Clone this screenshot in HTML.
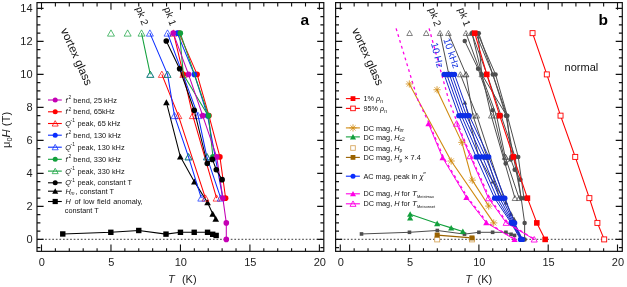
<!DOCTYPE html>
<html><head><meta charset="utf-8"><style>
html,body{margin:0;padding:0;background:#fff;width:627px;height:287px;overflow:hidden}
svg{display:block;font-family:"Liberation Sans",sans-serif;will-change:transform}
</style></head><body>
<svg width="627" height="287" viewBox="0 0 627 287" font-family="&quot;Liberation Sans&quot;, sans-serif">
<rect width="627" height="287" fill="#fff"/>
<rect x="37.0" y="2.6" width="286.8" height="248.75" fill="none" stroke="#111" stroke-width="1.2"/>
<line x1="38" y1="239.3" x2="322.8" y2="239.3" stroke="#333" stroke-width="0.95" stroke-dasharray="1.7 1.87"/>
<path d="M41.5,251.35v-6.8M41.5,2.6v7.2" stroke="#111" stroke-width="1.1"/>
<path d="M55.39,251.35v-3.2M55.39,2.6v3.9" stroke="#111" stroke-width="1.1"/>
<path d="M69.29,251.35v-3.2M69.29,2.6v3.9" stroke="#111" stroke-width="1.1"/>
<path d="M83.19,251.35v-3.2M83.19,2.6v3.9" stroke="#111" stroke-width="1.1"/>
<path d="M97.08,251.35v-3.2M97.08,2.6v3.9" stroke="#111" stroke-width="1.1"/>
<path d="M110.97,251.35v-6.8M110.97,2.6v7.2" stroke="#111" stroke-width="1.1"/>
<path d="M124.87,251.35v-3.2M124.87,2.6v3.9" stroke="#111" stroke-width="1.1"/>
<path d="M138.76,251.35v-3.2M138.76,2.6v3.9" stroke="#111" stroke-width="1.1"/>
<path d="M152.66,251.35v-3.2M152.66,2.6v3.9" stroke="#111" stroke-width="1.1"/>
<path d="M166.56,251.35v-3.2M166.56,2.6v3.9" stroke="#111" stroke-width="1.1"/>
<path d="M180.45,251.35v-6.8M180.45,2.6v7.2" stroke="#111" stroke-width="1.1"/>
<path d="M194.34,251.35v-3.2M194.34,2.6v3.9" stroke="#111" stroke-width="1.1"/>
<path d="M208.24,251.35v-3.2M208.24,2.6v3.9" stroke="#111" stroke-width="1.1"/>
<path d="M222.13,251.35v-3.2M222.13,2.6v3.9" stroke="#111" stroke-width="1.1"/>
<path d="M236.03,251.35v-3.2M236.03,2.6v3.9" stroke="#111" stroke-width="1.1"/>
<path d="M249.92,251.35v-6.8M249.92,2.6v7.2" stroke="#111" stroke-width="1.1"/>
<path d="M263.82,251.35v-3.2M263.82,2.6v3.9" stroke="#111" stroke-width="1.1"/>
<path d="M277.72,251.35v-3.2M277.72,2.6v3.9" stroke="#111" stroke-width="1.1"/>
<path d="M291.61,251.35v-3.2M291.61,2.6v3.9" stroke="#111" stroke-width="1.1"/>
<path d="M305.5,251.35v-3.2M305.5,2.6v3.9" stroke="#111" stroke-width="1.1"/>
<path d="M319.4,251.35v-6.8M319.4,2.6v7.2" stroke="#111" stroke-width="1.1"/>
<path d="M37.0,247.65h3.4M323.8,247.65h-3.4" stroke="#111" stroke-width="1.1"/>
<path d="M37.0,239.4h6.6M323.8,239.4h-6.6" stroke="#111" stroke-width="1.1"/>
<path d="M37.0,231.15h3.4M323.8,231.15h-3.4" stroke="#111" stroke-width="1.1"/>
<path d="M37.0,222.9h3.4M323.8,222.9h-3.4" stroke="#111" stroke-width="1.1"/>
<path d="M37.0,214.65h3.4M323.8,214.65h-3.4" stroke="#111" stroke-width="1.1"/>
<path d="M37.0,206.4h6.6M323.8,206.4h-6.6" stroke="#111" stroke-width="1.1"/>
<path d="M37.0,198.15h3.4M323.8,198.15h-3.4" stroke="#111" stroke-width="1.1"/>
<path d="M37.0,189.9h3.4M323.8,189.9h-3.4" stroke="#111" stroke-width="1.1"/>
<path d="M37.0,181.65h3.4M323.8,181.65h-3.4" stroke="#111" stroke-width="1.1"/>
<path d="M37.0,173.4h6.6M323.8,173.4h-6.6" stroke="#111" stroke-width="1.1"/>
<path d="M37.0,165.15h3.4M323.8,165.15h-3.4" stroke="#111" stroke-width="1.1"/>
<path d="M37.0,156.9h3.4M323.8,156.9h-3.4" stroke="#111" stroke-width="1.1"/>
<path d="M37.0,148.65h3.4M323.8,148.65h-3.4" stroke="#111" stroke-width="1.1"/>
<path d="M37.0,140.4h6.6M323.8,140.4h-6.6" stroke="#111" stroke-width="1.1"/>
<path d="M37.0,132.15h3.4M323.8,132.15h-3.4" stroke="#111" stroke-width="1.1"/>
<path d="M37.0,123.9h3.4M323.8,123.9h-3.4" stroke="#111" stroke-width="1.1"/>
<path d="M37.0,115.65h3.4M323.8,115.65h-3.4" stroke="#111" stroke-width="1.1"/>
<path d="M37.0,107.4h6.6M323.8,107.4h-6.6" stroke="#111" stroke-width="1.1"/>
<path d="M37.0,99.15h3.4M323.8,99.15h-3.4" stroke="#111" stroke-width="1.1"/>
<path d="M37.0,90.9h3.4M323.8,90.9h-3.4" stroke="#111" stroke-width="1.1"/>
<path d="M37.0,82.65h3.4M323.8,82.65h-3.4" stroke="#111" stroke-width="1.1"/>
<path d="M37.0,74.4h6.6M323.8,74.4h-6.6" stroke="#111" stroke-width="1.1"/>
<path d="M37.0,66.15h3.4M323.8,66.15h-3.4" stroke="#111" stroke-width="1.1"/>
<path d="M37.0,57.9h3.4M323.8,57.9h-3.4" stroke="#111" stroke-width="1.1"/>
<path d="M37.0,49.65h3.4M323.8,49.65h-3.4" stroke="#111" stroke-width="1.1"/>
<path d="M37.0,41.4h6.6M323.8,41.4h-6.6" stroke="#111" stroke-width="1.1"/>
<path d="M37.0,33.15h3.4M323.8,33.15h-3.4" stroke="#111" stroke-width="1.1"/>
<path d="M37.0,24.9h3.4M323.8,24.9h-3.4" stroke="#111" stroke-width="1.1"/>
<path d="M37.0,16.65h3.4M323.8,16.65h-3.4" stroke="#111" stroke-width="1.1"/>
<path d="M37.0,8.4h6.6M323.8,8.4h-6.6" stroke="#111" stroke-width="1.1"/>
<text x="41.9" y="266.2" font-size="11" text-anchor="middle" fill="#222">0</text>
<text x="111.38" y="266.2" font-size="11" text-anchor="middle" fill="#222">5</text>
<text x="180.85" y="266.2" font-size="11" text-anchor="middle" fill="#222">10</text>
<text x="250.32" y="266.2" font-size="11" text-anchor="middle" fill="#222">15</text>
<text x="319.8" y="266.2" font-size="11" text-anchor="middle" fill="#222">20</text>
<text x="32.6" y="243.3" font-size="11" text-anchor="end" fill="#222">0</text>
<text x="32.6" y="210.3" font-size="11" text-anchor="end" fill="#222">2</text>
<text x="32.6" y="177.3" font-size="11" text-anchor="end" fill="#222">4</text>
<text x="32.6" y="144.3" font-size="11" text-anchor="end" fill="#222">6</text>
<text x="32.6" y="111.3" font-size="11" text-anchor="end" fill="#222">8</text>
<text x="32.6" y="78.3" font-size="11" text-anchor="end" fill="#222">10</text>
<text x="32.6" y="45.3" font-size="11" text-anchor="end" fill="#222">12</text>
<text x="32.6" y="12.3" font-size="11" text-anchor="end" fill="#222">14</text>
<text x="168.05" y="283.2" font-size="11" font-style="italic" fill="#222">T</text>
<text x="181.95" y="283.2" font-size="11" fill="#222">(K)</text>
<text x="0" y="0" font-size="11.2" fill="#222" transform="translate(9.8 148.0) rotate(-90)">μ<tspan font-size="7.5" dy="2">0</tspan><tspan dy="-2" font-style="italic">H</tspan> (T)</text>
<path d="M62.76,233.96 L110.84,232.31 L138.76,230.49 L166,234.12 L180.45,232.31 L194.21,232.31 L207.55,232.31 L212.69,234.28 L216.16,235.44" fill="none" stroke="#000" stroke-width="1.05" stroke-linejoin="round"/>
<rect x="60.06" y="231.26" width="5.4" height="5.4" fill="#000"/>
<rect x="108.14" y="229.61" width="5.4" height="5.4" fill="#000"/>
<rect x="136.06" y="227.79" width="5.4" height="5.4" fill="#000"/>
<rect x="163.3" y="231.42" width="5.4" height="5.4" fill="#000"/>
<rect x="177.75" y="229.61" width="5.4" height="5.4" fill="#000"/>
<rect x="191.51" y="229.61" width="5.4" height="5.4" fill="#000"/>
<rect x="204.85" y="229.61" width="5.4" height="5.4" fill="#000"/>
<rect x="209.99" y="231.59" width="5.4" height="5.4" fill="#000"/>
<rect x="213.46" y="232.74" width="5.4" height="5.4" fill="#000"/>
<path d="M166.42,102.45 L180.31,156.57 L194.34,181.65 L207.55,202.44 L212.69,213.83 L215.74,218.94" fill="none" stroke="#000" stroke-width="1.05" stroke-linejoin="round"/>
<polygon points="166.42,99.34 169.72,105.25 163.12,105.25" fill="#000"/>
<polygon points="180.31,153.46 183.61,159.38 177.01,159.38" fill="#000"/>
<polygon points="194.34,178.54 197.65,184.46 191.04,184.46" fill="#000"/>
<polygon points="207.55,199.33 210.85,205.25 204.25,205.25" fill="#000"/>
<polygon points="212.69,210.72 215.99,216.63 209.39,216.63" fill="#000"/>
<polygon points="215.74,215.83 219.04,221.75 212.44,221.75" fill="#000"/>
<path d="M161.83,74.4 L178.37,115.65 L205.46,198.15" fill="none" stroke="#f00" stroke-width="1.05" stroke-linejoin="round"/>
<polygon points="161.83,71.13 165.33,77.38 158.33,77.38" fill="#fff" fill-opacity="0" stroke="#f00" stroke-width="0.7"/>
<polygon points="178.37,112.38 181.87,118.62 174.87,118.62" fill="#fff" fill-opacity="0" stroke="#f00" stroke-width="0.7"/>
<polygon points="205.46,194.88 208.96,201.12 201.96,201.12" fill="#fff" fill-opacity="0" stroke="#f00" stroke-width="0.7"/>
<path d="M173.5,33.15 L183.37,74.4 L192.82,115.65 L216.58,198.15" fill="none" stroke="#f00" stroke-width="1.05" stroke-linejoin="round"/>
<polygon points="173.5,29.88 177,36.13 170,36.13" fill="#fff" fill-opacity="0" stroke="#f00" stroke-width="0.7"/>
<polygon points="183.37,71.13 186.87,77.38 179.87,77.38" fill="#fff" fill-opacity="0" stroke="#f00" stroke-width="0.7"/>
<polygon points="192.82,112.38 196.32,118.62 189.32,118.62" fill="#fff" fill-opacity="0" stroke="#f00" stroke-width="0.7"/>
<polygon points="216.58,194.88 220.08,201.12 213.08,201.12" fill="#fff" fill-opacity="0" stroke="#f00" stroke-width="0.7"/>
<path d="M149.88,33.15 L167.53,74.4 L174.48,115.65 L188.51,156.9 L201.29,198.15" fill="none" stroke="#0a2dff" stroke-width="1.05" stroke-linejoin="round"/>
<polygon points="149.88,29.88 153.38,36.13 146.38,36.13" fill="#fff" fill-opacity="0" stroke="#0a2dff" stroke-width="0.7"/>
<polygon points="167.53,71.13 171.03,77.38 164.03,77.38" fill="#fff" fill-opacity="0" stroke="#0a2dff" stroke-width="0.7"/>
<polygon points="174.48,112.38 177.98,118.62 170.98,118.62" fill="#fff" fill-opacity="0" stroke="#0a2dff" stroke-width="0.7"/>
<polygon points="188.51,153.62 192.01,159.88 185.01,159.88" fill="#fff" fill-opacity="0" stroke="#0a2dff" stroke-width="0.7"/>
<polygon points="201.29,194.88 204.79,201.12 197.79,201.12" fill="#fff" fill-opacity="0" stroke="#0a2dff" stroke-width="0.7"/>
<polygon points="150.3,71.13 153.8,77.38 146.8,77.38" fill="#fff" fill-opacity="0" stroke="#0a2dff" stroke-width="0.7"/>
<path d="M167.53,33.15 L198.1,115.65 L206.85,156.9 L220.75,198.15" fill="none" stroke="#0a2dff" stroke-width="1.05" stroke-linejoin="round"/>
<polygon points="167.53,29.88 171.03,36.13 164.03,36.13" fill="#fff" fill-opacity="0" stroke="#0a2dff" stroke-width="0.7"/>
<polygon points="198.1,112.38 201.6,118.62 194.6,118.62" fill="#fff" fill-opacity="0" stroke="#0a2dff" stroke-width="0.7"/>
<polygon points="206.85,153.62 210.35,159.88 203.35,159.88" fill="#fff" fill-opacity="0" stroke="#0a2dff" stroke-width="0.7"/>
<polygon points="220.75,194.88 224.25,201.12 217.25,201.12" fill="#fff" fill-opacity="0" stroke="#0a2dff" stroke-width="0.7"/>
<polygon points="110.97,29.88 114.47,36.13 107.47,36.13" fill="#fff" fill-opacity="0" stroke="#12a03c" stroke-width="0.7"/>
<polygon points="127.65,29.88 131.15,36.13 124.15,36.13" fill="#fff" fill-opacity="0" stroke="#12a03c" stroke-width="0.7"/>
<path d="M141.54,33.15 L150.3,74.4" fill="none" stroke="#12a03c" stroke-width="1.05" stroke-linejoin="round"/>
<polygon points="141.54,29.88 145.04,36.13 138.04,36.13" fill="#fff" fill-opacity="0" stroke="#12a03c" stroke-width="0.7"/>
<polygon points="150.3,71.13 153.8,77.38 146.8,77.38" fill="#fff" fill-opacity="0" stroke="#12a03c" stroke-width="0.7"/>
<polygon points="167.53,71.13 171.03,77.38 164.03,77.38" fill="#fff" fill-opacity="0" stroke="#12a03c" stroke-width="0.7"/>
<polygon points="188.51,153.62 192.01,159.88 185.01,159.88" fill="#fff" fill-opacity="0" stroke="#12a03c" stroke-width="0.7"/>
<polygon points="207.13,153.62 210.63,159.88 203.63,159.88" fill="#fff" fill-opacity="0" stroke="#12a03c" stroke-width="0.7"/>
<path d="M179.06,33.15 L197.12,74.4 L208.93,115.65 L219.91,156.9 L225.61,198.15" fill="none" stroke="#f00" stroke-width="1.05" stroke-linejoin="round"/>
<circle cx="179.06" cy="33.15" r="2.8" fill="#f00"/>
<circle cx="197.12" cy="74.4" r="2.8" fill="#f00"/>
<circle cx="208.93" cy="115.65" r="2.8" fill="#f00"/>
<circle cx="219.91" cy="156.9" r="2.8" fill="#f00"/>
<circle cx="225.61" cy="198.15" r="2.8" fill="#f00"/>
<circle cx="183.37" cy="74.4" r="2.8" fill="#f00"/>
<path d="M207.55,115.65 L215.19,156.9 L222.83,198.15" fill="none" stroke="#0a2dff" stroke-width="1.05" stroke-linejoin="round"/>
<path d="M177.25,33.15 L194.34,74.4 L207.55,115.65" fill="none" stroke="#0a2dff" stroke-width="1.05" stroke-linejoin="round"/>
<circle cx="177.25" cy="33.15" r="2.8" fill="#0a2dff"/>
<circle cx="194.34" cy="74.4" r="2.8" fill="#0a2dff"/>
<circle cx="207.55" cy="115.65" r="2.8" fill="#0a2dff"/>
<path d="M179.48,33.15 L183.37,74.4 L208.24,115.65" fill="none" stroke="#12a03c" stroke-width="1.05" stroke-linejoin="round"/>
<path d="M180.31,33.15 L208.52,115.65 L212.96,156.9" fill="none" stroke="#12a03c" stroke-width="1.05" stroke-linejoin="round"/>
<circle cx="180.31" cy="33.15" r="2.8" fill="#12a03c"/>
<circle cx="208.52" cy="115.65" r="2.8" fill="#12a03c"/>
<circle cx="212.96" cy="156.9" r="2.8" fill="#12a03c"/>
<path d="M173.22,33.15 L188.51,74.4 L202.68,115.65 L216.72,156.9 L222.83,198.15 L226.3,222.9 L226.3,239.4" fill="none" stroke="#c400b4" stroke-width="1.05" stroke-linejoin="round"/>
<circle cx="173.22" cy="33.15" r="2.8" fill="#c400b4"/>
<circle cx="188.51" cy="74.4" r="2.8" fill="#c400b4"/>
<circle cx="202.68" cy="115.65" r="2.8" fill="#c400b4"/>
<circle cx="216.72" cy="156.9" r="2.8" fill="#c400b4"/>
<circle cx="222.83" cy="198.15" r="2.8" fill="#c400b4"/>
<circle cx="226.3" cy="222.9" r="2.8" fill="#c400b4"/>
<circle cx="226.3" cy="239.4" r="2.8" fill="#c400b4"/>
<path d="M166.28,41.07 L179.62,68.79 L194.21,110.21 L207.27,163.5 L212.41,159.38 L216.3,169.77 L222.13,179.67" fill="none" stroke="#000" stroke-width="1.05" stroke-linejoin="round"/>
<circle cx="166.28" cy="41.07" r="2.8" fill="#000"/>
<circle cx="179.62" cy="68.79" r="2.8" fill="#000"/>
<circle cx="194.21" cy="110.21" r="2.8" fill="#000"/>
<circle cx="207.27" cy="163.5" r="2.8" fill="#000"/>
<circle cx="212.41" cy="159.38" r="2.8" fill="#000"/>
<circle cx="216.3" cy="169.77" r="2.8" fill="#000"/>
<circle cx="222.13" cy="179.67" r="2.8" fill="#000"/>
<text x="300.5" y="25" font-size="15.5" text-anchor="start" fill="#000" font-weight="bold">a</text>
<text x="60.6" y="30.2" font-size="11.5" text-anchor="start" fill="#111" transform="rotate(66 60.6 30.2)">vortex glass</text>
<text x="135.7" y="8.2" font-size="10" text-anchor="start" fill="#111" transform="rotate(70 135.7 8.2)">pk 2</text>
<text x="163.8" y="8.6" font-size="10" text-anchor="start" fill="#111" transform="rotate(70 163.8 8.6)">pk 1</text>
<line x1="48" y1="100.0" x2="61.8" y2="100.0" stroke="#c400b4" stroke-width="1.1"/>
<circle cx="55.2" cy="100" r="2.5" fill="#c400b4"/>
<text x="65.6" y="102.6" font-size="7.3" font-style="italic" fill="#111">f</text>
<text x="68.6" y="98.8" font-size="4.8" fill="#111">2</text>
<text x="73.3" y="102.6" font-size="7.4" fill="#111">bend, 25 kHz</text>
<line x1="48" y1="111.8" x2="61.8" y2="111.8" stroke="#f00" stroke-width="1.1"/>
<circle cx="55.2" cy="111.8" r="2.5" fill="#f00"/>
<text x="65.6" y="114.4" font-size="7.3" font-style="italic" fill="#111">f</text>
<text x="68.6" y="110.6" font-size="4.8" fill="#111">2</text>
<text x="73.3" y="114.4" font-size="7.4" fill="#111">bend, 65kHz</text>
<line x1="48" y1="123.5" x2="61.8" y2="123.5" stroke="#f00" stroke-width="1.1"/>
<polygon points="55.2,120.65 58.2,126.05 52.2,126.05" fill="#fff" fill-opacity="0" stroke="#f00" stroke-width="0.75"/>
<text x="65.3" y="126.1" font-size="7.3" font-style="italic" fill="#111">Q</text>
<text x="70.6" y="122.3" font-size="4.8" fill="#111">-1</text>
<text x="77.4" y="126.1" font-size="7.4" fill="#111">peak, 65 kHz</text>
<line x1="48" y1="135.2" x2="61.8" y2="135.2" stroke="#0a2dff" stroke-width="1.1"/>
<circle cx="55.2" cy="135.2" r="2.5" fill="#0a2dff"/>
<text x="65.6" y="137.8" font-size="7.3" font-style="italic" fill="#111">f</text>
<text x="68.6" y="134" font-size="4.8" fill="#111">2</text>
<text x="73.3" y="137.8" font-size="7.4" fill="#111">bend, 130 kHz</text>
<line x1="48" y1="147.2" x2="61.8" y2="147.2" stroke="#0a2dff" stroke-width="1.1"/>
<polygon points="55.2,144.35 58.2,149.75 52.2,149.75" fill="#fff" fill-opacity="0" stroke="#0a2dff" stroke-width="0.75"/>
<text x="65.3" y="149.8" font-size="7.3" font-style="italic" fill="#111">Q</text>
<text x="70.6" y="146" font-size="4.8" fill="#111">-1</text>
<text x="77.4" y="149.8" font-size="7.4" fill="#111">peak, 130 kHz</text>
<line x1="48" y1="159.3" x2="61.8" y2="159.3" stroke="#12a03c" stroke-width="1.1"/>
<circle cx="55.2" cy="159.3" r="2.5" fill="#12a03c"/>
<text x="65.6" y="161.9" font-size="7.3" font-style="italic" fill="#111">f</text>
<text x="68.6" y="158.1" font-size="4.8" fill="#111">2</text>
<text x="73.3" y="161.9" font-size="7.4" fill="#111">bend, 330 kHz</text>
<line x1="48" y1="171.1" x2="61.8" y2="171.1" stroke="#12a03c" stroke-width="1.1"/>
<polygon points="55.2,168.25 58.2,173.65 52.2,173.65" fill="#fff" fill-opacity="0" stroke="#12a03c" stroke-width="0.75"/>
<text x="65.3" y="173.7" font-size="7.3" font-style="italic" fill="#111">Q</text>
<text x="70.6" y="169.9" font-size="4.8" fill="#111">-1</text>
<text x="77.4" y="173.7" font-size="7.4" fill="#111">peak, 330 kHz</text>
<line x1="48" y1="182.8" x2="61.8" y2="182.8" stroke="#000" stroke-width="1.1"/>
<circle cx="55.2" cy="182.8" r="2.5" fill="#000"/>
<text x="65.3" y="185.4" font-size="7.3" font-style="italic" fill="#111">Q</text>
<text x="70.6" y="181.6" font-size="4.8" fill="#111">-1</text>
<text x="77.4" y="185.4" font-size="7.4" fill="#111">peak, constant T</text>
<line x1="48" y1="191.2" x2="61.8" y2="191.2" stroke="#000" stroke-width="1.1"/>
<polygon points="55.2,188.35 58.2,193.75 52.2,193.75" fill="#000"/>
<text x="65.6" y="193.8" font-size="7.3" font-style="italic" fill="#111">H</text>
<text x="70.4" y="195" font-size="4.8" font-style="italic" fill="#111">m</text>
<text x="75.6" y="193.8" font-size="7.4" fill="#111">, constant T</text>
<line x1="48" y1="201.5" x2="61.8" y2="201.5" stroke="#000" stroke-width="1.1"/>
<rect x="52.6" y="198.9" width="5.2" height="5.2" fill="#000"/>
<text x="65.6" y="204.1" font-size="7.3" font-style="italic" fill="#111">H</text>
<text x="74.4" y="204.1" font-size="7.4" word-spacing="0.6" fill="#111">of low field anomaly,</text>
<text x="64.8" y="212.6" font-size="7.3" fill="#111">constant T</text>
<rect x="335.6" y="2.6" width="286.7" height="248.75" fill="none" stroke="#111" stroke-width="1.2"/>
<line x1="336.6" y1="239.3" x2="621.3" y2="239.3" stroke="#333" stroke-width="0.95" stroke-dasharray="1.7 1.87"/>
<path d="M340.3,251.35v-6.8M340.3,2.6v7.2" stroke="#111" stroke-width="1.1"/>
<path d="M354.16,251.35v-3.2M354.16,2.6v3.9" stroke="#111" stroke-width="1.1"/>
<path d="M368.02,251.35v-3.2M368.02,2.6v3.9" stroke="#111" stroke-width="1.1"/>
<path d="M381.88,251.35v-3.2M381.88,2.6v3.9" stroke="#111" stroke-width="1.1"/>
<path d="M395.74,251.35v-3.2M395.74,2.6v3.9" stroke="#111" stroke-width="1.1"/>
<path d="M409.6,251.35v-6.8M409.6,2.6v7.2" stroke="#111" stroke-width="1.1"/>
<path d="M423.46,251.35v-3.2M423.46,2.6v3.9" stroke="#111" stroke-width="1.1"/>
<path d="M437.32,251.35v-3.2M437.32,2.6v3.9" stroke="#111" stroke-width="1.1"/>
<path d="M451.18,251.35v-3.2M451.18,2.6v3.9" stroke="#111" stroke-width="1.1"/>
<path d="M465.04,251.35v-3.2M465.04,2.6v3.9" stroke="#111" stroke-width="1.1"/>
<path d="M478.9,251.35v-6.8M478.9,2.6v7.2" stroke="#111" stroke-width="1.1"/>
<path d="M492.76,251.35v-3.2M492.76,2.6v3.9" stroke="#111" stroke-width="1.1"/>
<path d="M506.62,251.35v-3.2M506.62,2.6v3.9" stroke="#111" stroke-width="1.1"/>
<path d="M520.48,251.35v-3.2M520.48,2.6v3.9" stroke="#111" stroke-width="1.1"/>
<path d="M534.34,251.35v-3.2M534.34,2.6v3.9" stroke="#111" stroke-width="1.1"/>
<path d="M548.2,251.35v-6.8M548.2,2.6v7.2" stroke="#111" stroke-width="1.1"/>
<path d="M562.06,251.35v-3.2M562.06,2.6v3.9" stroke="#111" stroke-width="1.1"/>
<path d="M575.92,251.35v-3.2M575.92,2.6v3.9" stroke="#111" stroke-width="1.1"/>
<path d="M589.78,251.35v-3.2M589.78,2.6v3.9" stroke="#111" stroke-width="1.1"/>
<path d="M603.64,251.35v-3.2M603.64,2.6v3.9" stroke="#111" stroke-width="1.1"/>
<path d="M617.5,251.35v-6.8M617.5,2.6v7.2" stroke="#111" stroke-width="1.1"/>
<path d="M335.6,247.65h3.4M622.3,247.65h-3.4" stroke="#111" stroke-width="1.1"/>
<path d="M335.6,239.4h6.6M622.3,239.4h-6.6" stroke="#111" stroke-width="1.1"/>
<path d="M335.6,231.15h3.4M622.3,231.15h-3.4" stroke="#111" stroke-width="1.1"/>
<path d="M335.6,222.9h3.4M622.3,222.9h-3.4" stroke="#111" stroke-width="1.1"/>
<path d="M335.6,214.65h3.4M622.3,214.65h-3.4" stroke="#111" stroke-width="1.1"/>
<path d="M335.6,206.4h6.6M622.3,206.4h-6.6" stroke="#111" stroke-width="1.1"/>
<path d="M335.6,198.15h3.4M622.3,198.15h-3.4" stroke="#111" stroke-width="1.1"/>
<path d="M335.6,189.9h3.4M622.3,189.9h-3.4" stroke="#111" stroke-width="1.1"/>
<path d="M335.6,181.65h3.4M622.3,181.65h-3.4" stroke="#111" stroke-width="1.1"/>
<path d="M335.6,173.4h6.6M622.3,173.4h-6.6" stroke="#111" stroke-width="1.1"/>
<path d="M335.6,165.15h3.4M622.3,165.15h-3.4" stroke="#111" stroke-width="1.1"/>
<path d="M335.6,156.9h3.4M622.3,156.9h-3.4" stroke="#111" stroke-width="1.1"/>
<path d="M335.6,148.65h3.4M622.3,148.65h-3.4" stroke="#111" stroke-width="1.1"/>
<path d="M335.6,140.4h6.6M622.3,140.4h-6.6" stroke="#111" stroke-width="1.1"/>
<path d="M335.6,132.15h3.4M622.3,132.15h-3.4" stroke="#111" stroke-width="1.1"/>
<path d="M335.6,123.9h3.4M622.3,123.9h-3.4" stroke="#111" stroke-width="1.1"/>
<path d="M335.6,115.65h3.4M622.3,115.65h-3.4" stroke="#111" stroke-width="1.1"/>
<path d="M335.6,107.4h6.6M622.3,107.4h-6.6" stroke="#111" stroke-width="1.1"/>
<path d="M335.6,99.15h3.4M622.3,99.15h-3.4" stroke="#111" stroke-width="1.1"/>
<path d="M335.6,90.9h3.4M622.3,90.9h-3.4" stroke="#111" stroke-width="1.1"/>
<path d="M335.6,82.65h3.4M622.3,82.65h-3.4" stroke="#111" stroke-width="1.1"/>
<path d="M335.6,74.4h6.6M622.3,74.4h-6.6" stroke="#111" stroke-width="1.1"/>
<path d="M335.6,66.15h3.4M622.3,66.15h-3.4" stroke="#111" stroke-width="1.1"/>
<path d="M335.6,57.9h3.4M622.3,57.9h-3.4" stroke="#111" stroke-width="1.1"/>
<path d="M335.6,49.65h3.4M622.3,49.65h-3.4" stroke="#111" stroke-width="1.1"/>
<path d="M335.6,41.4h6.6M622.3,41.4h-6.6" stroke="#111" stroke-width="1.1"/>
<path d="M335.6,33.15h3.4M622.3,33.15h-3.4" stroke="#111" stroke-width="1.1"/>
<path d="M335.6,24.9h3.4M622.3,24.9h-3.4" stroke="#111" stroke-width="1.1"/>
<path d="M335.6,16.65h3.4M622.3,16.65h-3.4" stroke="#111" stroke-width="1.1"/>
<path d="M335.6,8.4h6.6M622.3,8.4h-6.6" stroke="#111" stroke-width="1.1"/>
<text x="340.7" y="266.2" font-size="11" text-anchor="middle" fill="#222">0</text>
<text x="410" y="266.2" font-size="11" text-anchor="middle" fill="#222">5</text>
<text x="479.3" y="266.2" font-size="11" text-anchor="middle" fill="#222">10</text>
<text x="548.6" y="266.2" font-size="11" text-anchor="middle" fill="#222">15</text>
<text x="617.9" y="266.2" font-size="11" text-anchor="middle" fill="#222">20</text>
<text x="465.2" y="283.2" font-size="11" font-style="italic" fill="#222">T</text>
<text x="477.6" y="283.2" font-size="11" fill="#222">(K)</text>
<text x="598.5" y="25" font-size="15.5" text-anchor="start" fill="#000" font-weight="bold">b</text>
<text x="564.6" y="70.7" font-size="11" text-anchor="start" fill="#111">normal</text>
<text x="351.8" y="30.2" font-size="11.5" text-anchor="start" fill="#111" transform="rotate(66 351.8 30.2)">vortex glass</text>
<text x="428.5" y="9.3" font-size="10" text-anchor="start" fill="#111" transform="rotate(70 428.5 9.3)">pk 2</text>
<text x="458" y="9.3" font-size="10" text-anchor="start" fill="#111" transform="rotate(70 458 9.3)">pk 1</text>
<path d="M361.51,233.96 L409.46,232.31 L437.32,230.49 L464.49,234.12 L478.9,232.31 L492.62,232.31 L505.93,232.31 L511.06,234.28 L514.52,235.44" fill="none" stroke="#4d4d4d" stroke-width="1.0" stroke-linejoin="round"/>
<rect x="359.71" y="232.16" width="3.6" height="3.6" fill="#4d4d4d"/>
<rect x="407.66" y="230.5" width="3.6" height="3.6" fill="#4d4d4d"/>
<rect x="435.52" y="228.69" width="3.6" height="3.6" fill="#4d4d4d"/>
<rect x="462.69" y="232.32" width="3.6" height="3.6" fill="#4d4d4d"/>
<rect x="477.1" y="230.5" width="3.6" height="3.6" fill="#4d4d4d"/>
<rect x="490.82" y="230.5" width="3.6" height="3.6" fill="#4d4d4d"/>
<rect x="504.13" y="230.5" width="3.6" height="3.6" fill="#4d4d4d"/>
<rect x="509.26" y="232.48" width="3.6" height="3.6" fill="#4d4d4d"/>
<rect x="512.72" y="233.64" width="3.6" height="3.6" fill="#4d4d4d"/>
<path d="M464.9,102.45 L478.76,156.57 L492.76,181.65 L505.93,202.44 L511.06,213.83 L514.1,218.94" fill="none" stroke="#4d4d4d" stroke-width="1.0" stroke-linejoin="round"/>
<polygon points="464.9,100.19 467.2,104.4 462.6,104.4" fill="#4d4d4d"/>
<polygon points="478.76,154.31 481.06,158.53 476.46,158.53" fill="#4d4d4d"/>
<polygon points="492.76,179.39 495.06,183.61 490.46,183.61" fill="#4d4d4d"/>
<polygon points="505.93,200.18 508.23,204.4 503.63,204.4" fill="#4d4d4d"/>
<polygon points="511.06,211.57 513.36,215.78 508.76,215.78" fill="#4d4d4d"/>
<polygon points="514.1,216.68 516.4,220.9 511.8,220.9" fill="#4d4d4d"/>
<path d="M460.33,74.4 L476.82,115.65 L503.85,198.15" fill="none" stroke="#4d4d4d" stroke-width="1.0" stroke-linejoin="round"/>
<polygon points="460.33,71.72 463.13,76.78 457.53,76.78" fill="#fff" fill-opacity="0" stroke="#4d4d4d" stroke-width="0.7"/>
<polygon points="476.82,112.97 479.62,118.03 474.02,118.03" fill="#fff" fill-opacity="0" stroke="#4d4d4d" stroke-width="0.7"/>
<polygon points="503.85,195.47 506.65,200.53 501.05,200.53" fill="#fff" fill-opacity="0" stroke="#4d4d4d" stroke-width="0.7"/>
<path d="M471.97,33.15 L481.81,74.4 L491.24,115.65 L514.94,198.15" fill="none" stroke="#4d4d4d" stroke-width="1.0" stroke-linejoin="round"/>
<polygon points="471.97,30.47 474.77,35.53 469.17,35.53" fill="#fff" fill-opacity="0" stroke="#4d4d4d" stroke-width="0.7"/>
<polygon points="481.81,71.72 484.61,76.78 479.01,76.78" fill="#fff" fill-opacity="0" stroke="#4d4d4d" stroke-width="0.7"/>
<polygon points="491.24,112.97 494.04,118.03 488.44,118.03" fill="#fff" fill-opacity="0" stroke="#4d4d4d" stroke-width="0.7"/>
<polygon points="514.94,195.47 517.74,200.53 512.14,200.53" fill="#fff" fill-opacity="0" stroke="#4d4d4d" stroke-width="0.7"/>
<path d="M448.41,33.15 L466.01,74.4 L472.94,115.65 L486.94,156.9 L499.69,198.15" fill="none" stroke="#4d4d4d" stroke-width="1.0" stroke-linejoin="round"/>
<polygon points="448.41,30.47 451.21,35.53 445.61,35.53" fill="#fff" fill-opacity="0" stroke="#4d4d4d" stroke-width="0.7"/>
<polygon points="466.01,71.72 468.81,76.78 463.21,76.78" fill="#fff" fill-opacity="0" stroke="#4d4d4d" stroke-width="0.7"/>
<polygon points="472.94,112.97 475.74,118.03 470.14,118.03" fill="#fff" fill-opacity="0" stroke="#4d4d4d" stroke-width="0.7"/>
<polygon points="486.94,154.22 489.74,159.28 484.14,159.28" fill="#fff" fill-opacity="0" stroke="#4d4d4d" stroke-width="0.7"/>
<polygon points="499.69,195.47 502.49,200.53 496.89,200.53" fill="#fff" fill-opacity="0" stroke="#4d4d4d" stroke-width="0.7"/>
<polygon points="448.82,71.72 451.62,76.78 446.02,76.78" fill="#fff" fill-opacity="0" stroke="#4d4d4d" stroke-width="0.7"/>
<path d="M466.01,33.15 L496.5,115.65 L505.23,156.9 L519.09,198.15" fill="none" stroke="#4d4d4d" stroke-width="1.0" stroke-linejoin="round"/>
<polygon points="466.01,30.47 468.81,35.53 463.21,35.53" fill="#fff" fill-opacity="0" stroke="#4d4d4d" stroke-width="0.7"/>
<polygon points="496.5,112.97 499.3,118.03 493.7,118.03" fill="#fff" fill-opacity="0" stroke="#4d4d4d" stroke-width="0.7"/>
<polygon points="505.23,154.22 508.03,159.28 502.43,159.28" fill="#fff" fill-opacity="0" stroke="#4d4d4d" stroke-width="0.7"/>
<polygon points="519.09,195.47 521.89,200.53 516.29,200.53" fill="#fff" fill-opacity="0" stroke="#4d4d4d" stroke-width="0.7"/>
<polygon points="409.6,30.47 412.4,35.53 406.8,35.53" fill="#fff" fill-opacity="0" stroke="#4d4d4d" stroke-width="0.7"/>
<polygon points="426.23,30.47 429.03,35.53 423.43,35.53" fill="#fff" fill-opacity="0" stroke="#4d4d4d" stroke-width="0.7"/>
<path d="M440.09,33.15 L448.82,74.4" fill="none" stroke="#4d4d4d" stroke-width="1.0" stroke-linejoin="round"/>
<polygon points="440.09,30.47 442.89,35.53 437.29,35.53" fill="#fff" fill-opacity="0" stroke="#4d4d4d" stroke-width="0.7"/>
<polygon points="448.82,71.72 451.62,76.78 446.02,76.78" fill="#fff" fill-opacity="0" stroke="#4d4d4d" stroke-width="0.7"/>
<polygon points="466.01,71.72 468.81,76.78 463.21,76.78" fill="#fff" fill-opacity="0" stroke="#4d4d4d" stroke-width="0.7"/>
<polygon points="486.94,154.22 489.74,159.28 484.14,159.28" fill="#fff" fill-opacity="0" stroke="#4d4d4d" stroke-width="0.7"/>
<polygon points="505.51,154.22 508.31,159.28 502.71,159.28" fill="#fff" fill-opacity="0" stroke="#4d4d4d" stroke-width="0.7"/>
<path d="M477.51,33.15 L495.53,74.4 L507.31,115.65 L518.26,156.9 L523.94,198.15" fill="none" stroke="#4d4d4d" stroke-width="1.0" stroke-linejoin="round"/>
<circle cx="477.51" cy="33.15" r="2.25" fill="#4d4d4d"/>
<circle cx="495.53" cy="74.4" r="2.25" fill="#4d4d4d"/>
<circle cx="507.31" cy="115.65" r="2.25" fill="#4d4d4d"/>
<circle cx="518.26" cy="156.9" r="2.25" fill="#4d4d4d"/>
<circle cx="523.94" cy="198.15" r="2.25" fill="#4d4d4d"/>
<circle cx="481.81" cy="74.4" r="2.25" fill="#4d4d4d"/>
<path d="M505.93,115.65 L513.55,156.9 L521.17,198.15" fill="none" stroke="#4d4d4d" stroke-width="1.0" stroke-linejoin="round"/>
<path d="M475.71,33.15 L492.76,74.4 L505.93,115.65" fill="none" stroke="#4d4d4d" stroke-width="1.0" stroke-linejoin="round"/>
<circle cx="475.71" cy="33.15" r="2.25" fill="#4d4d4d"/>
<circle cx="492.76" cy="74.4" r="2.25" fill="#4d4d4d"/>
<circle cx="505.93" cy="115.65" r="2.25" fill="#4d4d4d"/>
<path d="M477.93,33.15 L481.81,74.4 L506.62,115.65" fill="none" stroke="#4d4d4d" stroke-width="1.0" stroke-linejoin="round"/>
<path d="M478.76,33.15 L506.9,115.65 L511.33,156.9" fill="none" stroke="#4d4d4d" stroke-width="1.0" stroke-linejoin="round"/>
<circle cx="478.76" cy="33.15" r="2.25" fill="#4d4d4d"/>
<circle cx="506.9" cy="115.65" r="2.25" fill="#4d4d4d"/>
<circle cx="511.33" cy="156.9" r="2.25" fill="#4d4d4d"/>
<path d="M471.69,33.15 L486.94,74.4 L501.08,115.65 L515.07,156.9 L521.17,198.15 L524.64,222.9 L524.64,239.4" fill="none" stroke="#4d4d4d" stroke-width="1.0" stroke-linejoin="round"/>
<circle cx="471.69" cy="33.15" r="2.25" fill="#4d4d4d"/>
<circle cx="486.94" cy="74.4" r="2.25" fill="#4d4d4d"/>
<circle cx="501.08" cy="115.65" r="2.25" fill="#4d4d4d"/>
<circle cx="515.07" cy="156.9" r="2.25" fill="#4d4d4d"/>
<circle cx="521.17" cy="198.15" r="2.25" fill="#4d4d4d"/>
<circle cx="524.64" cy="222.9" r="2.25" fill="#4d4d4d"/>
<circle cx="524.64" cy="239.4" r="2.25" fill="#4d4d4d"/>
<path d="M464.76,41.07 L478.07,68.79 L492.62,110.21 L505.65,163.5 L510.78,159.38 L514.66,169.77 L520.48,179.67" fill="none" stroke="#4d4d4d" stroke-width="1.0" stroke-linejoin="round"/>
<circle cx="464.76" cy="41.07" r="2.25" fill="#4d4d4d"/>
<circle cx="478.07" cy="68.79" r="2.25" fill="#4d4d4d"/>
<circle cx="492.62" cy="110.21" r="2.25" fill="#4d4d4d"/>
<circle cx="505.65" cy="163.5" r="2.25" fill="#4d4d4d"/>
<circle cx="510.78" cy="159.38" r="2.25" fill="#4d4d4d"/>
<circle cx="514.66" cy="169.77" r="2.25" fill="#4d4d4d"/>
<circle cx="520.48" cy="179.67" r="2.25" fill="#4d4d4d"/>
<path d="M409.32,83.97 L451.18,161.03 L493.73,222.9" fill="none" stroke="#d08a10" stroke-width="1.1" stroke-linejoin="round"/>
<path d="M437.04,89.75 L461.85,142.38 L472.25,180.17 L488.74,206.07" fill="none" stroke="#d08a10" stroke-width="1.1" stroke-linejoin="round"/>
<path d="M444.11,74.4 L458.8,115.65 L476.13,156.9 L494.56,198.15 L511.06,222.9 L520.48,239.4" fill="none" stroke="#1428c8" stroke-width="1.0" stroke-linejoin="round"/>
<path d="M446.74,74.4 L461.44,115.65 L479.32,156.9 L497.06,198.15 L512.03,222.9 L521.03,239.4" fill="none" stroke="#1428c8" stroke-width="1.0" stroke-linejoin="round"/>
<path d="M449.38,74.4 L463.93,115.65 L482.5,156.9 L499.69,198.15 L512.86,222.9 L521.45,239.4" fill="none" stroke="#1428c8" stroke-width="1.0" stroke-linejoin="round"/>
<path d="M451.87,74.4 L466.43,115.65 L485.55,156.9 L502.18,198.15 L513.83,222.9 L521.87,239.4" fill="none" stroke="#1428c8" stroke-width="1.0" stroke-linejoin="round"/>
<path d="M454.51,74.4 L469.2,115.65 L488.74,156.9 L504.82,198.15 L514.66,222.9 L522.42,239.4" fill="none" stroke="#1428c8" stroke-width="1.0" stroke-linejoin="round"/>
<path d="M396.1,28.4 L417.9,100 L429.3,123.6 L443.6,157.7 L467.6,197.4 L487.4,222.7 L515.5,239.6" fill="none" stroke="#ff00e6" stroke-width="1.3" stroke-linejoin="round" stroke-dasharray="2.8 3.3"/>
<path d="M429.1,28.4 L448.7,100 L457.6,123.6 L471,156.3 L489.6,198.1 L507.2,222.7 L535.2,239.6" fill="none" stroke="#ff00e6" stroke-width="1.3" stroke-linejoin="round" stroke-dasharray="2.8 3.3"/>
<path d="M428.45,123.57 L442.59,157.73 L466.43,197.33 L486.25,222.74 L514.52,239.4" fill="none" stroke="#ff00e6" stroke-width="1.0" stroke-linejoin="round"/>
<path d="M456.59,123.57 L470.17,156.07 L488.46,198.15 L506.2,222.74 L534.2,239.4" fill="none" stroke="#ff00e6" stroke-width="1.0" stroke-linejoin="round"/>
<path d="M410.15,214.16 L437.18,223.56 L451.18,227.85 L462.82,231.48" fill="none" stroke="#12a03c" stroke-width="1.1" stroke-linejoin="round"/>
<path d="M437.18,235.11 L471.97,237.91" fill="none" stroke="#9a6200" stroke-width="1.1" stroke-linejoin="round"/>
<path d="M474.74,33.15 L486.8,74.4 L499.69,115.65 L513.41,156.9 L527.41,198.15 L536.83,222.9 L545.15,239.4" fill="none" stroke="#f00" stroke-width="1.1" stroke-linejoin="round"/>
<path d="M532.54,33.15 L546.81,74.4 L560.54,115.65 L575.23,156.9 L589.36,198.15 L597.4,222.9 L604.19,239.4" fill="none" stroke="#f00" stroke-width="1.1" stroke-linejoin="round"/>
<rect x="434.68" y="236.9" width="5" height="5" fill="#fff" stroke="#d8a860" stroke-width="0.9"/>
<rect x="469.47" y="236.9" width="5" height="5" fill="#fff" stroke="#d8a860" stroke-width="0.9"/>
<rect x="434.68" y="232.61" width="5" height="5" fill="#9a6200"/>
<rect x="469.47" y="235.41" width="5" height="5" fill="#9a6200"/>
<polygon points="410.15,211.22 413.25,216.79 407.05,216.79" fill="#12a03c"/>
<polygon points="437.18,220.62 440.28,226.19 434.08,226.19" fill="#12a03c"/>
<polygon points="451.18,224.91 454.28,230.48 448.08,230.48" fill="#12a03c"/>
<polygon points="462.82,228.55 465.92,234.12 459.72,234.12" fill="#12a03c"/>
<polygon points="410.15,215.02 413.25,220.59 407.05,220.59" fill="#12a03c"/>
<circle cx="444.11" cy="74.4" r="2.65" fill="#0c2ee6"/>
<circle cx="446.74" cy="74.4" r="2.65" fill="#0c2ee6"/>
<circle cx="449.38" cy="74.4" r="2.65" fill="#0c2ee6"/>
<circle cx="451.87" cy="74.4" r="2.65" fill="#0c2ee6"/>
<circle cx="454.51" cy="74.4" r="2.65" fill="#0c2ee6"/>
<circle cx="458.8" cy="115.65" r="2.65" fill="#0c2ee6"/>
<circle cx="461.44" cy="115.65" r="2.65" fill="#0c2ee6"/>
<circle cx="463.93" cy="115.65" r="2.65" fill="#0c2ee6"/>
<circle cx="466.43" cy="115.65" r="2.65" fill="#0c2ee6"/>
<circle cx="469.2" cy="115.65" r="2.65" fill="#0c2ee6"/>
<circle cx="476.13" cy="156.9" r="2.65" fill="#0c2ee6"/>
<circle cx="479.32" cy="156.9" r="2.65" fill="#0c2ee6"/>
<circle cx="482.5" cy="156.9" r="2.65" fill="#0c2ee6"/>
<circle cx="485.55" cy="156.9" r="2.65" fill="#0c2ee6"/>
<circle cx="488.74" cy="156.9" r="2.65" fill="#0c2ee6"/>
<circle cx="494.56" cy="198.15" r="2.65" fill="#0c2ee6"/>
<circle cx="497.06" cy="198.15" r="2.65" fill="#0c2ee6"/>
<circle cx="499.69" cy="198.15" r="2.65" fill="#0c2ee6"/>
<circle cx="502.18" cy="198.15" r="2.65" fill="#0c2ee6"/>
<circle cx="504.82" cy="198.15" r="2.65" fill="#0c2ee6"/>
<circle cx="511.06" cy="222.9" r="2.65" fill="#0c2ee6"/>
<circle cx="512.03" cy="222.9" r="2.65" fill="#0c2ee6"/>
<circle cx="512.86" cy="222.9" r="2.65" fill="#0c2ee6"/>
<circle cx="513.83" cy="222.9" r="2.65" fill="#0c2ee6"/>
<circle cx="514.66" cy="222.9" r="2.65" fill="#0c2ee6"/>
<circle cx="520.48" cy="239.4" r="2.65" fill="#0c2ee6"/>
<circle cx="521.03" cy="239.4" r="2.65" fill="#0c2ee6"/>
<circle cx="521.45" cy="239.4" r="2.65" fill="#0c2ee6"/>
<circle cx="521.87" cy="239.4" r="2.65" fill="#0c2ee6"/>
<circle cx="522.42" cy="239.4" r="2.65" fill="#0c2ee6"/>
<path d="M405.72,83.97L412.92,83.97M406.78,81.42L411.87,86.52M409.32,80.37L409.32,87.57M411.87,81.42L406.78,86.52" stroke="#d08a10" stroke-width="0.8" fill="none"/>
<path d="M447.58,161.03L454.78,161.03M448.63,158.48L453.73,163.57M451.18,157.43L451.18,164.62M453.73,158.48L448.63,163.57" stroke="#d08a10" stroke-width="0.8" fill="none"/>
<path d="M490.13,222.9L497.33,222.9M491.18,220.35L496.28,225.45M493.73,219.3L493.73,226.5M496.28,220.35L491.18,225.45" stroke="#d08a10" stroke-width="0.8" fill="none"/>
<path d="M433.44,89.75L440.64,89.75M434.5,87.2L439.59,92.29M437.04,86.15L437.04,93.34M439.59,87.2L434.5,92.29" stroke="#d08a10" stroke-width="0.8" fill="none"/>
<path d="M458.25,142.38L465.45,142.38M459.31,139.83L464.4,144.93M461.85,138.78L461.85,145.98M464.4,139.83L459.31,144.93" stroke="#d08a10" stroke-width="0.8" fill="none"/>
<path d="M468.65,180.17L475.85,180.17M469.7,177.62L474.79,182.71M472.25,176.57L472.25,183.77M474.79,177.62L469.7,182.71" stroke="#d08a10" stroke-width="0.8" fill="none"/>
<path d="M485.14,206.07L492.34,206.07M486.2,203.52L491.29,208.62M488.74,202.47L488.74,209.67M491.29,203.52L486.2,208.62" stroke="#d08a10" stroke-width="0.8" fill="none"/>
<polygon points="428.45,120.64 431.55,126.21 425.35,126.21" fill="#ff00e6"/>
<polygon points="442.59,154.79 445.69,160.36 439.49,160.36" fill="#ff00e6"/>
<polygon points="466.43,194.39 469.53,199.96 463.33,199.96" fill="#ff00e6"/>
<polygon points="486.25,219.8 489.35,225.37 483.15,225.37" fill="#ff00e6"/>
<polygon points="514.52,236.47 517.62,242.03 511.42,242.03" fill="#ff00e6"/>
<polygon points="456.59,120.64 459.69,126.21 453.49,126.21" fill="#fff" fill-opacity="0" stroke="#ff00e6" stroke-width="0.9"/>
<polygon points="470.17,153.14 473.27,158.71 467.07,158.71" fill="#fff" fill-opacity="0" stroke="#ff00e6" stroke-width="0.9"/>
<polygon points="488.46,195.22 491.56,200.78 485.36,200.78" fill="#fff" fill-opacity="0" stroke="#ff00e6" stroke-width="0.9"/>
<polygon points="506.2,219.8 509.3,225.37 503.1,225.37" fill="#fff" fill-opacity="0" stroke="#ff00e6" stroke-width="0.9"/>
<polygon points="534.2,236.47 537.3,242.03 531.1,242.03" fill="#fff" fill-opacity="0" stroke="#ff00e6" stroke-width="0.9"/>
<rect x="471.94" y="30.35" width="5.6" height="5.6" fill="#f00"/>
<rect x="484" y="71.6" width="5.6" height="5.6" fill="#f00"/>
<rect x="496.89" y="112.85" width="5.6" height="5.6" fill="#f00"/>
<rect x="510.61" y="154.1" width="5.6" height="5.6" fill="#f00"/>
<rect x="524.61" y="195.35" width="5.6" height="5.6" fill="#f00"/>
<rect x="534.03" y="220.1" width="5.6" height="5.6" fill="#f00"/>
<rect x="542.35" y="236.6" width="5.6" height="5.6" fill="#f00"/>
<rect x="530.04" y="30.65" width="5" height="5" fill="#fff" stroke="#f00" stroke-width="0.9"/>
<rect x="544.31" y="71.9" width="5" height="5" fill="#fff" stroke="#f00" stroke-width="0.9"/>
<rect x="558.04" y="113.15" width="5" height="5" fill="#fff" stroke="#f00" stroke-width="0.9"/>
<rect x="572.73" y="154.4" width="5" height="5" fill="#fff" stroke="#f00" stroke-width="0.9"/>
<rect x="586.86" y="195.65" width="5" height="5" fill="#fff" stroke="#f00" stroke-width="0.9"/>
<rect x="594.9" y="220.4" width="5" height="5" fill="#fff" stroke="#f00" stroke-width="0.9"/>
<rect x="601.69" y="236.9" width="5" height="5" fill="#fff" stroke="#f00" stroke-width="0.9"/>
<text x="431" y="43.6" font-size="9.8" text-anchor="start" fill="#1030e0" transform="rotate(76 431 43.6)">10 Hz</text>
<text x="443.2" y="39.6" font-size="10" text-anchor="start" fill="#1030e0" transform="rotate(71 443.2 39.6)">10 kHz</text>
<line x1="345.9" y1="98.6" x2="359.9" y2="98.6" stroke="#f00" stroke-width="1.1"/>
<rect x="350.6" y="96.2" width="4.8" height="4.8" fill="#f00"/>
<text x="363.4" y="101.2" font-size="7.3" fill="#111">1% <tspan font-style="italic">ρ</tspan><tspan font-size="5" dy="1.5">n</tspan></text>
<line x1="345.9" y1="108.4" x2="359.9" y2="108.4" stroke="#f00" stroke-width="1.1"/>
<rect x="350.7" y="106.1" width="4.6" height="4.6" fill="#fff" stroke="#f00" stroke-width="0.9"/>
<text x="363.4" y="111" font-size="7.3" fill="#111">95% <tspan font-style="italic">ρ</tspan><tspan font-size="5" dy="1.5">n</tspan></text>
<line x1="345.9" y1="127.9" x2="359.9" y2="127.9" stroke="#d08a10" stroke-width="1.1"/>
<path d="M349.4,127.9L356.6,127.9M350.45,125.35L355.55,130.45M353,124.3L353,131.5M355.55,125.35L350.45,130.45" stroke="#d08a10" stroke-width="0.8" fill="none"/>
<text x="363.4" y="130.5" font-size="7.3" fill="#111">DC mag, <tspan font-style="italic">H</tspan><tspan font-size="5" dy="1.5">irr</tspan></text>
<line x1="345.9" y1="136.9" x2="359.9" y2="136.9" stroke="#12a03c" stroke-width="1.1"/>
<polygon points="353,134.05 356,139.45 350,139.45" fill="#12a03c"/>
<text x="363.4" y="139.5" font-size="7.3" fill="#111">DC mag, <tspan font-style="italic">H</tspan><tspan font-size="5" dy="1.5">c2</tspan></text>
<rect x="350.7" y="145.7" width="4.6" height="4.6" fill="#fff" stroke="#d8a860" stroke-width="0.9"/>
<text x="363.4" y="150.6" font-size="7.3" fill="#111">DC mag, <tspan font-style="italic">H</tspan><tspan font-size="5" dy="1.5">p</tspan></text>
<line x1="345.9" y1="157.4" x2="359.9" y2="157.4" stroke="#9a6200" stroke-width="1.1"/>
<rect x="350.6" y="155" width="4.8" height="4.8" fill="#9a6200"/>
<text x="363.4" y="160" font-size="7.3" fill="#111">DC mag, <tspan font-style="italic">H</tspan><tspan font-size="5" dy="1.5">p</tspan><tspan dy="-1.5"> × 7.4</tspan></text>
<line x1="345.9" y1="176.2" x2="359.9" y2="176.2" stroke="#0a2dff" stroke-width="1.1"/>
<circle cx="353" cy="176.2" r="2.5" fill="#0a2dff"/>
<text x="363.4" y="178.8" font-size="7.3" fill="#111">AC mag, peak in <tspan font-style="italic">χ</tspan><tspan font-size="7" dy="-2.2">&#8243;</tspan></text>
<line x1="345.9" y1="193.8" x2="359.9" y2="193.8" stroke="#ff00e6" stroke-width="1.1"/>
<polygon points="353,190.95 356,196.35 350,196.35" fill="#ff00e6"/>
<text x="363.4" y="196.4" font-size="7.3" fill="#111">DC mag, <tspan font-style="italic">H</tspan> for  <tspan font-style="italic" font-size="8">T</tspan><tspan font-size="4" dy="1.8">Meistmax</tspan></text>
<line x1="345.9" y1="203.8" x2="359.9" y2="203.8" stroke="#ff00e6" stroke-width="1.1"/>
<polygon points="353,200.95 356,206.35 350,206.35" fill="#fff" fill-opacity="0" stroke="#ff00e6" stroke-width="0.9"/>
<text x="363.4" y="206.4" font-size="7.3" fill="#111">DC mag, <tspan font-style="italic">H</tspan> for  <tspan font-style="italic" font-size="8">T</tspan><tspan font-size="4" dy="1.8">Meisonset</tspan></text>
</svg>
</body></html>
